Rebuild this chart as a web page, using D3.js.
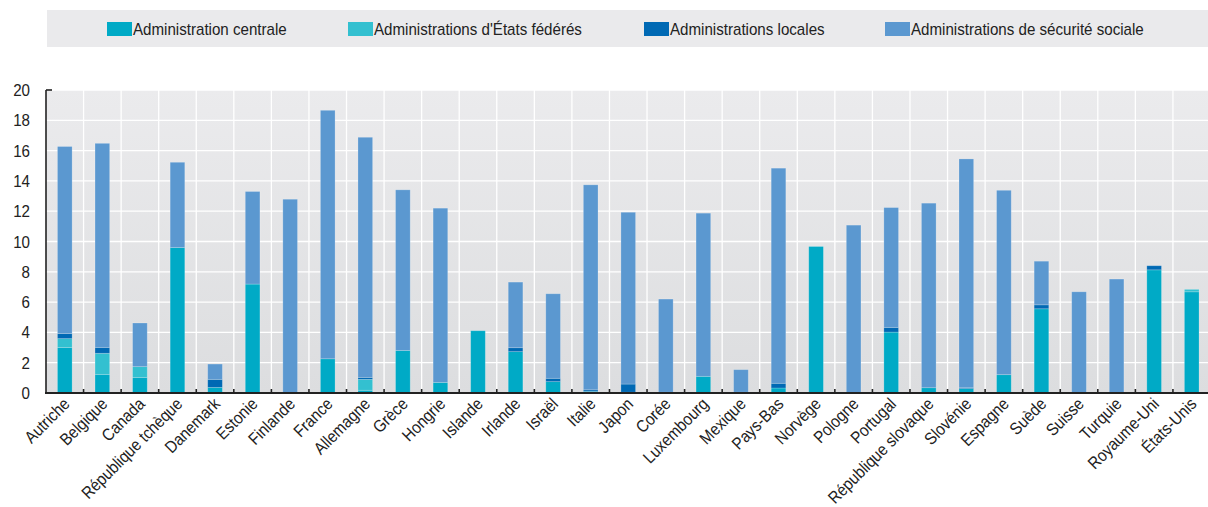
<!DOCTYPE html>
<html>
<head>
<meta charset="utf-8">
<script src="https://cdn.jsdelivr.net/npm/d3@7"></script>
<style>
  body { margin: 0; background: #fff; }
  svg text { font-family: "Liberation Sans Narrow", "Arial Narrow", "Liberation Sans", Arial, sans-serif; fill: #222; }
</style>
</head>
<body>
<div id="chart"></div>
<script>
// data (% )
const countries = ["Autriche", "Belgique", "Canada", "République tchèque", "Danemark", "Estonie", "Finlande",
  "France", "Allemagne", "Grèce", "Hongrie", "Islande", "Irlande", "Israël", "Italie", "Japon", "Corée",
  "Luxembourg", "Mexique", "Pays-Bas", "Norvège", "Pologne", "Portugal", "République slovaque", "Slovénie",
  "Espagne", "Suède", "Suisse", "Turquie", "Royaume-Uni", "États-Unis"];

const central = [3.01, 1.23, 1.03, 9.60, 0.37, 7.19, 0.00, 2.26, 0.18, 2.81, 0.70, 4.11, 2.73, 0.75, 0.11, 0.05, 0.00,
  1.10, 0.05, 0.33, 9.67, 0.00, 4.02, 0.35, 0.29, 1.21, 5.56, 0.00, 0.00, 8.13, 6.68];
const federated = [0.58, 1.39, 0.71, 0, 0, 0, 0, 0, 0.72, 0, 0, 0, 0, 0, 0, 0, 0,
  0, 0, 0, 0, 0, 0, 0, 0, 0, 0, 0, 0, 0, 0.16];
const local = [0.33, 0.39, 0.00, 0.00, 0.53, 0.00, 0.00, 0.00, 0.13, 0.00, 0.00, 0.00, 0.26, 0.22, 0.10, 0.54, 0.05,
  0.00, 0.00, 0.31, 0.00, 0.00, 0.31, 0.00, 0.06, 0.00, 0.26, 0.00, 0.00, 0.27, 0.00];
const social = [12.35, 13.47, 2.88, 5.63, 1.01, 6.11, 12.79, 16.40, 15.85, 10.60, 11.50, 0.00, 4.33, 5.58, 13.53, 11.34, 6.15,
  10.77, 1.49, 14.20, 0.00, 11.08, 7.91, 12.18, 15.10, 12.17, 2.88, 6.68, 7.52, 0.00, 0.00];

const seriesNames = ["Administration centrale", "Administrations d'États fédérés", "Administrations locales", "Administrations de sécurité sociale"];
const seriesKeys = ["central", "federated", "local", "social"];
const colors = ["#00aac6", "#33c0d0", "#0069b4", "#5b98d0"];
const yTicks = [0, 2, 4, 6, 8, 10, 12, 14, 16, 18, 20];

const W = 1208, H = 507;
const plotLeft = 46, plotRight = 1210.5, plotTop = 90, plotBottom = 393;
const narrow = "scale(0.89,1)";   // the original font is a condensed one

const rows = countries.map((c, i) => ({
  country: c, central: central[i], federated: federated[i], local: local[i], social: social[i]
}));

const svg = d3.select("#chart").append("svg")
  .attr("width", W).attr("height", H);

const defs = svg.append("defs");
const grad = defs.append("linearGradient").attr("id", "bg").attr("x1", 0).attr("y1", 0).attr("x2", 0).attr("y2", 1);
grad.append("stop").attr("offset", "0%").attr("stop-color", "#ebebed");
grad.append("stop").attr("offset", "100%").attr("stop-color", "#dcdddf");

// legend band
const legend = svg.append("g");
legend.append("rect").attr("x", 47).attr("y", 10).attr("width", W - 47).attr("height", 37).attr("fill", "#eaeaec");
const legendX = [107, 348, 644, 885];
seriesNames.forEach((name, i) => {
  const g = legend.append("g").attr("transform", "translate(" + legendX[i] + ",0)");
  g.append("rect").attr("x", 0).attr("y", 22).attr("width", 25).attr("height", 14).attr("fill", colors[i]);
  g.append("text").attr("transform", "translate(26,34.5) " + narrow).attr("font-size", 17).text(name);
});

// scales
const x = d3.scaleBand().domain(countries).range([plotLeft, plotRight]).paddingInner(0.61).paddingOuter(0.305);
const y = d3.scaleLinear().domain([0, 20]).range([plotBottom, plotTop]);
const step = x.step();

// plot background + grid
svg.append("rect").attr("x", plotLeft).attr("y", plotTop).attr("width", W - plotLeft).attr("height", plotBottom - plotTop).attr("fill", "url(#bg)");

svg.append("g").selectAll("line.h").data(yTicks.slice(1)).enter().append("line")
  .attr("x1", plotLeft).attr("x2", W).attr("y1", d => y(d)).attr("y2", d => y(d))
  .attr("stroke", "#fff").attr("stroke-width", 1.3);

const bounds = countries.slice(1).map(c => x(c) - step * x.paddingInner() / 2);
svg.append("g").selectAll("line.v").data(bounds).enter().append("line")
  .attr("x1", d => d).attr("x2", d => d).attr("y1", plotTop).attr("y2", plotBottom)
  .attr("stroke", "#fff").attr("stroke-width", 1.3);

// stacked bars
const stack = d3.stack().keys(seriesKeys);
const layers = stack(rows);
svg.append("g").selectAll("g").data(layers).enter().append("g")
  .attr("fill", (d, i) => colors[i])
  .selectAll("rect").data(d => d.filter(p => p[1] - p[0] > 0)).enter().append("rect")
  .attr("x", d => x(d.data.country))
  .attr("width", x.bandwidth())
  .attr("y", d => y(d[1]))
  .attr("height", d => y(d[0]) - y(d[1]))
  .attr("stroke", "rgba(255,255,255,0.25)").attr("stroke-width", 0.8);

// y axis
svg.append("line").attr("x1", plotLeft).attr("x2", plotLeft).attr("y1", plotTop).attr("y2", plotBottom)
  .attr("stroke", "#222").attr("stroke-width", 1.6);
svg.append("line").attr("x1", plotLeft).attr("x2", plotLeft + 6).attr("y1", plotTop).attr("y2", plotTop)
  .attr("stroke", "#222").attr("stroke-width", 1.6);
svg.append("g").selectAll("text").data(yTicks).enter().append("text")
  .attr("text-anchor", "end")
  .attr("font-size", 17)
  .attr("transform", d => "translate(30," + (y(d) + 6) + ") " + narrow)
  .text(d => d);

// x axis
svg.append("line").attr("x1", plotLeft - 1).attr("x2", W).attr("y1", plotBottom).attr("y2", plotBottom)
  .attr("stroke", "#222").attr("stroke-width", 2);
svg.append("g").selectAll("line").data(bounds).enter().append("line")
  .attr("x1", d => d).attr("x2", d => d).attr("y1", plotBottom - 4).attr("y2", plotBottom)
  .attr("stroke", "#222").attr("stroke-width", 1.6);

svg.append("g").selectAll("text").data(countries).enter().append("text")
  .attr("text-anchor", "end")
  .attr("font-size", 17)
  .attr("transform", d => "translate(" + (x(d) + x.bandwidth() / 2 + 6) + "," + (plotBottom + 12) + ") rotate(-45) " + narrow)
  .text(d => d);
</script>
</body>
</html>
